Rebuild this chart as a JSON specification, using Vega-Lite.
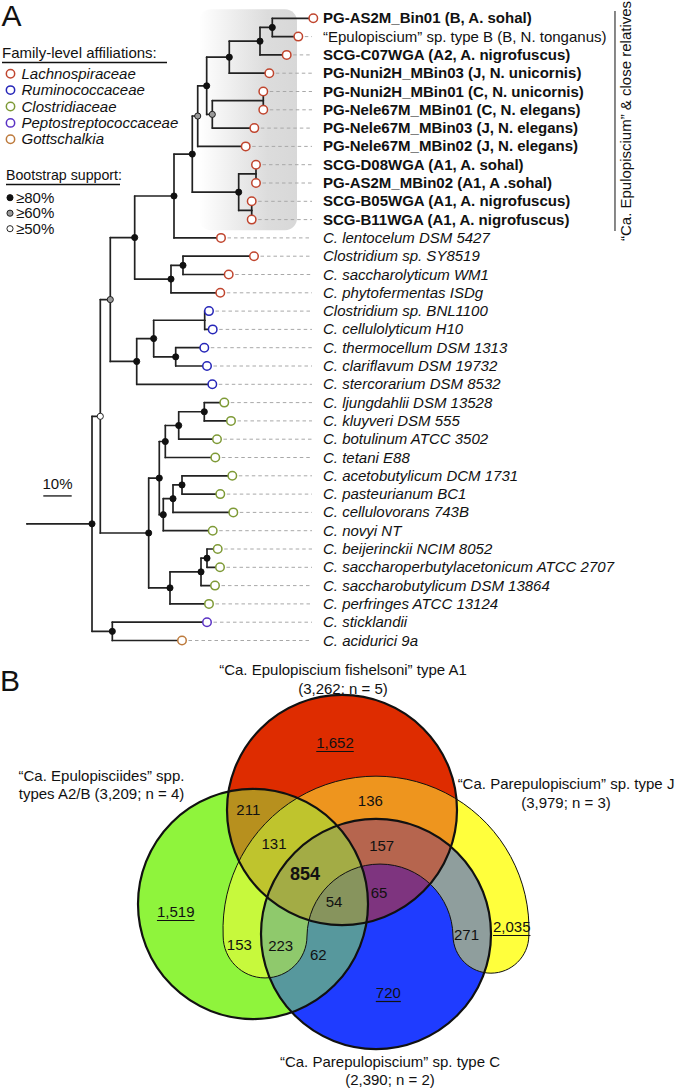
{
  "$schema": "https://vega.github.io/schema/vega-lite/v6.json",
  "width": 677,
  "height": 1089,
  "autosize": {"type": "fit", "contains": "padding"},
  "padding": 0,
  "background": "#ffffff",
  "config": {
    "view": {"stroke": null},
    "axis": {"disable": true},
    "legend": {"disable": true},
    "text": {"font": "Liberation Sans", "fontSize": 15, "color": "#111111"}
  },
  "datasets": {
    "nodes": [
      {"id": "stem", "d": 0, "y": 27.625},
      {"id": "root", "parent": "stem", "d": 22.89, "y": 27.625, "support": "≥80%"},
      {"id": "nW", "parent": "root", "d": 25.81, "y": 21.75, "support": "≥50%"},
      {"id": "nH", "parent": "nW", "d": 29.33, "y": 15.37, "support": "≥60%"},
      {"id": "nE", "parent": "nH", "d": 37.92, "y": 11.98, "support": "≥80%"},
      {"id": "nD", "parent": "nE", "d": 51.76, "y": 9.71, "support": "≥80%"},
      {"id": "nC", "parent": "nD", "d": 58.2, "y": 7.42, "support": "≥80%"},
      {"id": "nB", "parent": "nC", "d": 60.11, "y": 5.34, "support": "≥60%"},
      {"id": "nA", "parent": "nB", "d": 63.27, "y": 3.69, "support": "≥80%"},
      {"id": "n0123", "parent": "nA", "d": 71.23, "y": 2.125, "support": "≥80%"},
      {"id": "n012", "parent": "n0123", "d": 82.04, "y": 1.25, "support": "≥80%"},
      {"id": "n01", "parent": "n012", "d": 86.37, "y": 0.5, "support": "≥80%"},
      {"id": "t0", "parent": "n01", "d": 100.81, "y": 0, "family": "Lachnospiraceae", "kind": "genome", "label": "PG-AS2M_Bin01 (B, A. sohal)"},
      {"id": "t1", "parent": "n01", "d": 95.53, "y": 1, "family": "Lachnospiraceae", "kind": "type", "label": "“Epulopiscium” sp. type B (B, N. tonganus)"},
      {"id": "t2", "parent": "n012", "d": 91.44, "y": 2, "family": "Lachnospiraceae", "kind": "genome", "label": "SCG-C07WGA (A2, A. nigrofuscus)"},
      {"id": "t3", "parent": "n0123", "d": 85.32, "y": 3, "family": "Lachnospiraceae", "kind": "genome", "label": "PG-Nuni2H_MBin03 (J, N. unicornis)"},
      {"id": "n456", "parent": "nA", "d": 65.25, "y": 5.25, "support": "≥60%"},
      {"id": "n45", "parent": "n456", "d": 83.2, "y": 4.5},
      {"id": "t4", "parent": "n45", "d": 83.2, "y": 4, "family": "Lachnospiraceae", "kind": "genome", "label": "PG-Nuni2H_MBin01 (C, N. unicornis)"},
      {"id": "t5", "parent": "n45", "d": 83.2, "y": 5, "family": "Lachnospiraceae", "kind": "genome", "label": "PG-Nele67M_MBin01 (C, N. elegans)"},
      {"id": "t6", "parent": "n456", "d": 80.04, "y": 6, "family": "Lachnospiraceae", "kind": "genome", "label": "PG-Nele67M_MBin03 (J, N. elegans)"},
      {"id": "t7", "parent": "nB", "d": 77.01, "y": 7, "family": "Lachnospiraceae", "kind": "genome", "label": "PG-Nele67M_MBin02 (J, N. elegans)"},
      {"id": "nA1", "parent": "nC", "d": 74.54, "y": 9.5, "support": "≥80%"},
      {"id": "n89", "parent": "nA1", "d": 80.63, "y": 8.5},
      {"id": "t8", "parent": "n89", "d": 80.63, "y": 8, "family": "Lachnospiraceae", "kind": "genome", "label": "SCG-D08WGA (A1, A. sohal)"},
      {"id": "t9", "parent": "n89", "d": 80.63, "y": 9, "family": "Lachnospiraceae", "kind": "genome", "label": "PG-AS2M_MBin02 (A1, A .sohal)"},
      {"id": "n1011", "parent": "nA1", "d": 79.12, "y": 10.5},
      {"id": "t10", "parent": "n1011", "d": 79.12, "y": 10, "family": "Lachnospiraceae", "kind": "genome", "label": "SCG-B05WGA (A1, A. nigrofuscus)"},
      {"id": "t11", "parent": "n1011", "d": 79.12, "y": 11, "family": "Lachnospiraceae", "kind": "genome", "label": "SCG-B11WGA (A1, A. nigrofuscus)"},
      {"id": "t12", "parent": "nD", "d": 68.31, "y": 12, "family": "Lachnospiraceae", "kind": "reference", "label": "C. lentocelum DSM 5427"},
      {"id": "n131415", "parent": "nE", "d": 50.7, "y": 14.25, "support": "≥80%"},
      {"id": "n1314", "parent": "n131415", "d": 54.93, "y": 13.5, "support": "≥80%"},
      {"id": "t13", "parent": "n1314", "d": 79.93, "y": 13, "family": "Lachnospiraceae", "kind": "reference", "label": "Clostridium sp. SY8519"},
      {"id": "t14", "parent": "n1314", "d": 71.02, "y": 14, "family": "Lachnospiraceae", "kind": "reference", "label": "C. saccharolyticum WM1"},
      {"id": "t15", "parent": "n131415", "d": 68.06, "y": 15, "family": "Lachnospiraceae", "kind": "reference", "label": "C. phytofermentas ISDg"},
      {"id": "nG", "parent": "nH", "d": 38.63, "y": 18.75, "support": "≥80%"},
      {"id": "nF", "parent": "nG", "d": 44.61, "y": 17.5, "support": "≥80%"},
      {"id": "n1617", "parent": "nF", "d": 62.57, "y": 16.5},
      {"id": "t16", "parent": "n1617", "d": 64.08, "y": 16, "family": "Ruminococcaceae", "kind": "reference", "label": "Clostridium sp. BNL1100"},
      {"id": "t17", "parent": "n1617", "d": 65.39, "y": 17, "family": "Ruminococcaceae", "kind": "reference", "label": "C. cellulolyticum H10"},
      {"id": "n1819", "parent": "nF", "d": 52.36, "y": 18.5, "support": "≥80%"},
      {"id": "t18", "parent": "n1819", "d": 62.43, "y": 18, "family": "Ruminococcaceae", "kind": "reference", "label": "C. thermocellum DSM 1313"},
      {"id": "t19", "parent": "n1819", "d": 63.38, "y": 19, "family": "Ruminococcaceae", "kind": "reference", "label": "C. clariflavum DSM 19732"},
      {"id": "t20", "parent": "nG", "d": 65.25, "y": 20, "family": "Ruminococcaceae", "kind": "reference", "label": "C. stercorarium DSM 8532"},
      {"id": "nClos", "parent": "nW", "d": 42.85, "y": 28.125, "support": "≥80%"},
      {"id": "n21_28", "parent": "nClos", "d": 46.58, "y": 25.125, "support": "≥80%"},
      {"id": "n21_24", "parent": "n21_28", "d": 48.7, "y": 23.125, "support": "≥80%"},
      {"id": "n21_23", "parent": "n21_24", "d": 53.42, "y": 22.25, "support": "≥80%"},
      {"id": "n2122", "parent": "n21_23", "d": 62.43, "y": 21.5, "support": "≥80%"},
      {"id": "t21", "parent": "n2122", "d": 69.47, "y": 21, "family": "Clostridiaceae", "kind": "reference", "label": "C. ljungdahlii DSM 13528"},
      {"id": "t22", "parent": "n2122", "d": 71.83, "y": 22, "family": "Clostridiaceae", "kind": "reference", "label": "C. kluyveri DSM 555"},
      {"id": "t23", "parent": "n21_23", "d": 66.9, "y": 23, "family": "Clostridiaceae", "kind": "reference", "label": "C. botulinum ATCC 3502"},
      {"id": "t24", "parent": "n21_24", "d": 66.3, "y": 24, "family": "Clostridiaceae", "kind": "reference", "label": "C. tetani E88"},
      {"id": "n25_28", "parent": "n21_28", "d": 47.99, "y": 27.125, "support": "≥80%"},
      {"id": "n25_27", "parent": "n25_28", "d": 51.41, "y": 26.25, "support": "≥80%"},
      {"id": "n2526", "parent": "n25_27", "d": 54.58, "y": 25.5, "support": "≥80%"},
      {"id": "t25", "parent": "n2526", "d": 72.29, "y": 25, "family": "Clostridiaceae", "kind": "reference", "label": "C. acetobutylicum DCM 1731"},
      {"id": "t26", "parent": "n2526", "d": 68.06, "y": 26, "family": "Clostridiaceae", "kind": "reference", "label": "C. pasteurianum BC1"},
      {"id": "t27", "parent": "n25_27", "d": 72.64, "y": 27, "family": "Clostridiaceae", "kind": "reference", "label": "C. cellulovorans 743B"},
      {"id": "t28", "parent": "n25_28", "d": 65.39, "y": 28, "family": "Clostridiaceae", "kind": "reference", "label": "C. novyi NT"},
      {"id": "n29_32", "parent": "nClos", "d": 50.35, "y": 31.125, "support": "≥80%"},
      {"id": "n29_31", "parent": "n29_32", "d": 61.27, "y": 30.25, "support": "≥80%"},
      {"id": "n2930", "parent": "n29_31", "d": 63.38, "y": 29.5, "support": "≥80%"},
      {"id": "t29", "parent": "n2930", "d": 67.15, "y": 29, "family": "Clostridiaceae", "kind": "reference", "label": "C. beijerinckii NCIM 8052"},
      {"id": "t30", "parent": "n2930", "d": 67.96, "y": 30, "family": "Clostridiaceae", "kind": "reference", "label": "C. saccharoperbutylacetonicum ATCC 2707"},
      {"id": "t31", "parent": "n29_31", "d": 66.2, "y": 31, "family": "Clostridiaceae", "kind": "reference", "label": "C. saccharobutylicum DSM 13864"},
      {"id": "t32", "parent": "n29_32", "d": 64.08, "y": 32, "family": "Clostridiaceae", "kind": "reference", "label": "C. perfringes ATCC 13124"},
      {"id": "n3334", "parent": "root", "d": 30.04, "y": 33.5, "support": "≥80%"},
      {"id": "t33", "parent": "n3334", "d": 63.38, "y": 33, "family": "Peptostreptococcaceae", "kind": "reference", "label": "C. sticklandii"},
      {"id": "t34", "parent": "n3334", "d": 54.58, "y": 34, "family": "Gottschalkia", "kind": "reference", "label": "C. acidurici 9a"}
    ],
    "families": [
      {"family": "Lachnospiraceae", "order": 1},
      {"family": "Ruminococcaceae", "order": 2},
      {"family": "Clostridiaceae", "order": 3},
      {"family": "Peptostreptococcaceae", "order": 4},
      {"family": "Gottschalkia", "order": 5}
    ],
    "support": [
      {"support": "≥80%", "order": 1},
      {"support": "≥60%", "order": 2},
      {"support": "≥50%", "order": 3}
    ],
    "sets": [
      {"set": "A2/B", "genes": 3209, "n": 4, "cx": 253, "cy": 903, "lx": 101.5, "ly": 775, "label": ["“Ca. Epulopisciides” spp.", "types A2/B (3,209; n = 4)"]},
      {"set": "A1", "genes": 3262, "n": 5, "cx": 342, "cy": 809, "lx": 343, "ly": 669.3, "label": ["“Ca. Epulopiscium fishelsoni” type A1", "(3,262; n = 5)"]},
      {"set": "C", "genes": 2390, "n": 2, "cx": 376, "cy": 933, "lx": 390, "ly": 1060.7, "label": ["“Ca. Parepulopiscium” sp. type C", "(2,390; n = 2)"]},
      {"set": "J", "genes": 3979, "n": 3, "cx": 376, "cy": 928, "lx": 566, "ly": 783.3, "label": ["“Ca. Parepulopiscium” sp. type J", "(3,979; n = 3)"]}
    ],
    "regions": [
      {"sets": "A1", "genes": 1652, "kind": "unique", "x": 335, "y": 742},
      {"sets": "A2/B", "genes": 1519, "kind": "unique", "x": 175.7, "y": 911},
      {"sets": "J", "genes": 2035, "kind": "unique", "x": 511.7, "y": 926},
      {"sets": "C", "genes": 720, "kind": "unique", "x": 388.3, "y": 992},
      {"sets": "A1+A2/B", "genes": 211, "kind": "shared", "x": 248.3, "y": 809.3},
      {"sets": "A1+J", "genes": 136, "kind": "shared", "x": 370.3, "y": 800},
      {"sets": "A1+A2/B+J", "genes": 131, "kind": "shared", "x": 274, "y": 843.3},
      {"sets": "A2/B+J", "genes": 153, "kind": "shared", "x": 239.3, "y": 944},
      {"sets": "A2/B+J+C", "genes": 223, "kind": "shared", "x": 280.7, "y": 945},
      {"sets": "A2/B+C", "genes": 62, "kind": "shared", "x": 318.3, "y": 954.3},
      {"sets": "A1+A2/B+J+C", "genes": 854, "kind": "core", "x": 305, "y": 874.3},
      {"sets": "A1+A2/B+C", "genes": 54, "kind": "shared", "x": 334, "y": 901},
      {"sets": "A1+J+C", "genes": 157, "kind": "shared", "x": 381.7, "y": 845},
      {"sets": "A1+C", "genes": 65, "kind": "shared", "x": 379, "y": 891.7},
      {"sets": "J+C", "genes": 271, "kind": "shared", "x": 466.5, "y": 933.5}
    ]
  },
  "resolve": {"scale": {"x": "independent", "y": "independent", "color": "independent", "fill": "independent", "stroke": "independent", "size": "independent", "opacity": "independent"}},
  "layer": [
    {
      "data": {"name": "nodes"},
      "layer": [
        {
          "data": {"values": [{"clade": "“Ca. Epulopiscium” & close relatives", "first": 0, "last": 11}]},
          "mark": {"type": "rect", "cornerRadius": 12, "yOffset": -9, "y2Offset": 10.7,
            "fill": {"gradient": "linear", "x1": 0, "y1": 0, "x2": 1, "y2": 0, "stops": [{"offset": 0, "color": "#ffffff"}, {"offset": 0.7, "color": "#dcdcdc"}, {"offset": 1, "color": "#d8d8d8"}]}},
          "encoding": {
            "x": {"datum": 60.56, "type": "quantitative", "scale": {"domain": [0, 100], "range": [27, 311], "nice": false, "zero": false}, "axis": null},
            "x2": {"datum": 95.07},
            "y": {"field": "first", "type": "quantitative", "scale": {"domain": [0, 34], "range": [17.3, 639.5], "nice": false, "zero": false}, "axis": null},
            "y2": {"field": "last"}
          }
        },
        {
          "data": {"values": [{"clade": "“Ca. Epulopiscium” & close relatives", "first": 0, "last": 11}]},
          "mark": {"type": "rule", "color": "#111111", "strokeWidth": 1, "yOffset": -7.3, "y2Offset": 11.4},
          "encoding": {
            "x": {"datum": 207.04, "type": "quantitative", "scale": {"domain": [0, 100], "range": [27, 311], "nice": false, "zero": false}, "axis": null},
            "y": {"field": "first", "type": "quantitative", "scale": {"domain": [0, 34], "range": [17.3, 639.5], "nice": false, "zero": false}, "axis": null},
            "y2": {"field": "last"}
          }
        },
        {
          "data": {"values": [{"clade": "“Ca. Epulopiscium” & close relatives", "first": 0, "last": 11}]},
          "mark": {"type": "text", "angle": 270, "align": "center", "baseline": "middle", "fontSize": 15},
          "encoding": {
            "x": {"datum": 210.92, "type": "quantitative", "scale": {"domain": [0, 100], "range": [27, 311], "nice": false, "zero": false}, "axis": null},
            "y": {"datum": 5.61, "type": "quantitative", "scale": {"domain": [0, 34], "range": [17.3, 639.5], "nice": false, "zero": false}, "axis": null},
            "text": {"field": "clade"}
          }
        },
        {
          "transform": [{"filter": "datum.family != null"}],
          "mark": {"type": "rule", "color": "#a8a8a8", "strokeWidth": 1, "strokeDash": [3.5, 3]},
          "encoding": {
            "x": {"field": "d", "type": "quantitative", "scale": {"domain": [0, 100], "range": [27, 311], "nice": false, "zero": false}, "axis": null},
            "x2": {"datum": 100.35},
            "y": {"field": "y", "type": "quantitative", "scale": {"domain": [0, 34], "range": [17.3, 639.5], "nice": false, "zero": false}, "axis": null}
          }
        },
        {
          "transform": [
            {"filter": "datum.parent != null"},
            {"lookup": "parent", "from": {"data": {"name": "nodes"}, "key": "id", "fields": ["d", "y"]}, "as": ["pd", "py"]}
          ],
          "mark": {"type": "rule", "color": "#222222", "strokeWidth": 1.7, "strokeCap": "round"},
          "encoding": {
            "x": {"field": "pd", "type": "quantitative", "scale": {"domain": [0, 100], "range": [27, 311], "nice": false, "zero": false}, "axis": null},
            "y": {"field": "py", "type": "quantitative", "scale": {"domain": [0, 34], "range": [17.3, 639.5], "nice": false, "zero": false}, "axis": null},
            "y2": {"field": "y"}
          }
        },
        {
          "transform": [
            {"filter": "datum.parent != null"},
            {"lookup": "parent", "from": {"data": {"name": "nodes"}, "key": "id", "fields": ["d", "y"]}, "as": ["pd", "py"]}
          ],
          "mark": {"type": "rule", "color": "#222222", "strokeWidth": 1.7, "strokeCap": "round"},
          "encoding": {
            "x": {"field": "pd", "type": "quantitative", "scale": {"domain": [0, 100], "range": [27, 311], "nice": false, "zero": false}, "axis": null},
            "x2": {"field": "d"},
            "y": {"field": "y", "type": "quantitative", "scale": {"domain": [0, 34], "range": [17.3, 639.5], "nice": false, "zero": false}, "axis": null}
          }
        },
        {
          "transform": [{"filter": "datum.support != null"}],
          "mark": {"type": "point", "shape": "circle", "filled": true, "size": 38, "stroke": "#111111", "strokeWidth": 0.9, "opacity": 1},
          "encoding": {
            "x": {"field": "d", "type": "quantitative", "scale": {"domain": [0, 100], "range": [27, 311], "nice": false, "zero": false}, "axis": null},
            "y": {"field": "y", "type": "quantitative", "scale": {"domain": [0, 34], "range": [17.3, 639.5], "nice": false, "zero": false}, "axis": null},
            "fill": {"field": "support", "type": "nominal", "scale": {"domain": ["≥80%", "≥60%", "≥50%"], "range": ["#111111", "#9a9a9a", "#ffffff"]}, "legend": null}
          }
        },
        {
          "transform": [{"filter": "datum.family != null"}],
          "mark": {"type": "point", "shape": "circle", "size": 72, "fill": "#ffffff", "strokeWidth": 1.5, "opacity": 1},
          "encoding": {
            "x": {"field": "d", "type": "quantitative", "scale": {"domain": [0, 100], "range": [27, 311], "nice": false, "zero": false}, "axis": null},
            "y": {"field": "y", "type": "quantitative", "scale": {"domain": [0, 34], "range": [17.3, 639.5], "nice": false, "zero": false}, "axis": null},
            "stroke": {"field": "family", "type": "nominal", "scale": {"domain": ["Lachnospiraceae", "Ruminococcaceae", "Clostridiaceae", "Peptostreptococcaceae", "Gottschalkia"], "range": ["#c0452e", "#2626b8", "#7e9a36", "#5a32c4", "#bd7a3c"]}, "legend": null}
          }
        },
        {
          "transform": [{"filter": "datum.kind == 'genome'"}],
          "mark": {"type": "text", "align": "left", "baseline": "middle", "fontSize": 15, "fontWeight": "bold"},
          "encoding": {
            "x": {"datum": 104.23, "type": "quantitative", "scale": {"domain": [0, 100], "range": [27, 311], "nice": false, "zero": false}, "axis": null},
            "y": {"field": "y", "type": "quantitative", "scale": {"domain": [0, 34], "range": [17.3, 639.5], "nice": false, "zero": false}, "axis": null},
            "text": {"field": "label"}
          }
        },
        {
          "transform": [{"filter": "datum.kind == 'type'"}],
          "mark": {"type": "text", "align": "left", "baseline": "middle", "fontSize": 15},
          "encoding": {
            "x": {"datum": 104.23, "type": "quantitative", "scale": {"domain": [0, 100], "range": [27, 311], "nice": false, "zero": false}, "axis": null},
            "y": {"field": "y", "type": "quantitative", "scale": {"domain": [0, 34], "range": [17.3, 639.5], "nice": false, "zero": false}, "axis": null},
            "text": {"field": "label"}
          }
        },
        {
          "transform": [{"filter": "datum.kind == 'reference'"}],
          "mark": {"type": "text", "align": "left", "baseline": "middle", "fontSize": 15, "fontStyle": "italic"},
          "encoding": {
            "x": {"datum": 104.23, "type": "quantitative", "scale": {"domain": [0, 100], "range": [27, 311], "nice": false, "zero": false}, "axis": null},
            "y": {"field": "y", "type": "quantitative", "scale": {"domain": [0, 34], "range": [17.3, 639.5], "nice": false, "zero": false}, "axis": null},
            "text": {"field": "label"}
          }
        },
        {
          "data": {"values": [{"bar": "10%"}]},
          "mark": {"type": "rule", "color": "#111111", "strokeWidth": 1.3},
          "encoding": {
            "x": {"datum": 5.74, "type": "quantitative", "scale": {"domain": [0, 100], "range": [27, 311], "nice": false, "zero": false}, "axis": null},
            "x2": {"datum": 15.74},
            "y": {"datum": 26.1, "type": "quantitative", "scale": {"domain": [0, 34], "range": [17.3, 639.5], "nice": false, "zero": false}, "axis": null}
          }
        },
        {
          "data": {"values": [{"bar": "10%"}]},
          "mark": {"type": "text", "align": "center", "baseline": "middle", "fontSize": 15},
          "encoding": {
            "x": {"datum": 10.74, "type": "quantitative", "scale": {"domain": [0, 100], "range": [27, 311], "nice": false, "zero": false}, "axis": null},
            "y": {"datum": 25.45, "type": "quantitative", "scale": {"domain": [0, 34], "range": [17.3, 639.5], "nice": false, "zero": false}, "axis": null},
            "text": {"field": "bar"}
          }
        }
      ]
    },
    {
      "data": {"name": "families"},
      "layer": [
        {
          "mark": {"type": "point", "shape": "circle", "size": 70, "fill": "#ffffff", "strokeWidth": 1.5, "opacity": 1},
          "encoding": {
            "x": {"datum": 10.5, "type": "quantitative", "scale": {"domain": [0, 677], "range": [0, 677], "nice": false, "zero": false}, "axis": null},
            "y": {"field": "order", "type": "quantitative", "scale": {"domain": [1, 5], "range": [72.7, 138.3], "nice": false, "zero": false}, "axis": null},
            "stroke": {"field": "family", "type": "nominal", "scale": {"domain": ["Lachnospiraceae", "Ruminococcaceae", "Clostridiaceae", "Peptostreptococcaceae", "Gottschalkia"], "range": ["#c0452e", "#2626b8", "#7e9a36", "#5a32c4", "#bd7a3c"]}, "legend": null}
          }
        },
        {
          "mark": {"type": "text", "align": "left", "baseline": "middle", "fontSize": 15, "fontStyle": "italic"},
          "encoding": {
            "x": {"datum": 21.5, "type": "quantitative", "scale": {"domain": [0, 677], "range": [0, 677], "nice": false, "zero": false}, "axis": null},
            "y": {"field": "order", "type": "quantitative", "scale": {"domain": [1, 5], "range": [72.7, 138.3], "nice": false, "zero": false}, "axis": null},
            "text": {"field": "family"}
          }
        }
      ]
    },
    {
      "data": {"name": "support"},
      "layer": [
        {
          "mark": {"type": "point", "shape": "circle", "filled": true, "size": 38, "stroke": "#111111", "strokeWidth": 0.9, "opacity": 1},
          "encoding": {
            "x": {"datum": 10, "type": "quantitative", "scale": {"domain": [0, 677], "range": [0, 677], "nice": false, "zero": false}, "axis": null},
            "y": {"field": "order", "type": "quantitative", "scale": {"domain": [1, 3], "range": [196.7, 227.7], "nice": false, "zero": false}, "axis": null},
            "fill": {"field": "support", "type": "nominal", "scale": {"domain": ["≥80%", "≥60%", "≥50%"], "range": ["#111111", "#9a9a9a", "#ffffff"]}, "legend": null}
          }
        },
        {
          "mark": {"type": "text", "align": "left", "baseline": "middle", "fontSize": 15},
          "encoding": {
            "x": {"datum": 16, "type": "quantitative", "scale": {"domain": [0, 677], "range": [0, 677], "nice": false, "zero": false}, "axis": null},
            "y": {"field": "order", "type": "quantitative", "scale": {"domain": [1, 3], "range": [196.7, 227.7], "nice": false, "zero": false}, "axis": null},
            "text": {"field": "support"}
          }
        }
      ]
    },
    {
      "data": {"values": [{"panelA": "A", "panelB": "B", "families": "Family-level affiliations:", "bootstrap": "Bootstrap support:"}]},
      "layer": [
        {
          "mark": {"type": "text", "align": "left", "baseline": "alphabetic", "fontSize": 30},
          "encoding": {
            "x": {"datum": 1.5, "type": "quantitative", "scale": {"domain": [0, 677], "range": [0, 677], "nice": false, "zero": false}, "axis": null},
            "y": {"datum": 25, "type": "quantitative", "scale": {"domain": [0, 1089], "range": [0, 1089], "nice": false, "zero": false}, "axis": null},
            "text": {"field": "panelA"}
          }
        },
        {
          "mark": {"type": "text", "align": "left", "baseline": "alphabetic", "fontSize": 30},
          "encoding": {
            "x": {"datum": 0, "type": "quantitative", "scale": {"domain": [0, 677], "range": [0, 677], "nice": false, "zero": false}, "axis": null},
            "y": {"datum": 690, "type": "quantitative", "scale": {"domain": [0, 1089], "range": [0, 1089], "nice": false, "zero": false}, "axis": null},
            "text": {"field": "panelB"}
          }
        },
        {
          "mark": {"type": "text", "align": "left", "baseline": "alphabetic", "fontSize": 15},
          "encoding": {
            "x": {"datum": 2, "type": "quantitative", "scale": {"domain": [0, 677], "range": [0, 677], "nice": false, "zero": false}, "axis": null},
            "y": {"datum": 57.4, "type": "quantitative", "scale": {"domain": [0, 1089], "range": [0, 1089], "nice": false, "zero": false}, "axis": null},
            "text": {"field": "families"}
          }
        },
        {
          "mark": {"type": "rule", "color": "#111111", "strokeWidth": 1.5},
          "encoding": {
            "x": {"datum": 2, "type": "quantitative", "scale": {"domain": [0, 677], "range": [0, 677], "nice": false, "zero": false}, "axis": null},
            "x2": {"datum": 167},
            "y": {"datum": 61.5, "type": "quantitative", "scale": {"domain": [0, 1089], "range": [0, 1089], "nice": false, "zero": false}, "axis": null}
          }
        },
        {
          "mark": {"type": "text", "align": "left", "baseline": "alphabetic", "fontSize": 14.2},
          "encoding": {
            "x": {"datum": 6, "type": "quantitative", "scale": {"domain": [0, 677], "range": [0, 677], "nice": false, "zero": false}, "axis": null},
            "y": {"datum": 179, "type": "quantitative", "scale": {"domain": [0, 1089], "range": [0, 1089], "nice": false, "zero": false}, "axis": null},
            "text": {"field": "bootstrap"}
          }
        },
        {
          "mark": {"type": "rule", "color": "#111111", "strokeWidth": 1.5},
          "encoding": {
            "x": {"datum": 6, "type": "quantitative", "scale": {"domain": [0, 677], "range": [0, 677], "nice": false, "zero": false}, "axis": null},
            "x2": {"datum": 120},
            "y": {"datum": 183.5, "type": "quantitative", "scale": {"domain": [0, 1089], "range": [0, 1089], "nice": false, "zero": false}, "axis": null}
          }
        }
      ]
    },
    {
      "data": {"name": "sets"},
      "layer": [
        {
          "transform": [{"filter": "datum.set == 'A2/B'"}],
          "mark": {"type": "point", "shape": "circle", "size": 52900, "filled": true, "opacity": 1, "strokeWidth": 0},
          "encoding": {
            "x": {"field": "cx", "type": "quantitative", "scale": {"domain": [0, 677], "range": [0, 677], "nice": false, "zero": false}, "axis": null},
            "y": {"field": "cy", "type": "quantitative", "scale": {"domain": [0, 1089], "range": [0, 1089], "nice": false, "zero": false}, "axis": null},
            "color": {"field": "set", "type": "nominal", "scale": {"domain": ["A1", "A2/B", "C", "J"], "range": ["#de2c00", "#8ff43c", "#1f3cff", "#ffff3c"]}, "legend": null}
          }
        },
        {
          "transform": [{"filter": "datum.set == 'A1'"}],
          "mark": {"type": "point", "shape": "circle", "size": 52900, "filled": true, "opacity": 1, "strokeWidth": 0},
          "encoding": {
            "x": {"field": "cx", "type": "quantitative", "scale": {"domain": [0, 677], "range": [0, 677], "nice": false, "zero": false}, "axis": null},
            "y": {"field": "cy", "type": "quantitative", "scale": {"domain": [0, 1089], "range": [0, 1089], "nice": false, "zero": false}, "axis": null},
            "color": {"field": "set", "type": "nominal", "scale": {"domain": ["A1", "A2/B", "C", "J"], "range": ["#de2c00", "#8ff43c", "#1f3cff", "#ffff3c"]}, "legend": null}
          }
        },
        {
          "transform": [{"filter": "datum.set == 'J'"}],
          "mark": {"type": "point", "shape": "M-0.999,0.0458A1,1,0,1,1,0.999,0.0458A0.2479,0.2479,0,0,1,0.5033,0.0458A0.4772,0.4772,0,0,0,-0.451,0.0458A0.274,0.274,0,0,1,-0.999,0.0458Z", "size": 93636, "filled": true, "opacity": 1, "strokeWidth": 0},
          "encoding": {
            "x": {"field": "cx", "type": "quantitative", "scale": {"domain": [0, 677], "range": [0, 677], "nice": false, "zero": false}, "axis": null},
            "y": {"field": "cy", "type": "quantitative", "scale": {"domain": [0, 1089], "range": [0, 1089], "nice": false, "zero": false}, "axis": null},
            "color": {"field": "set", "type": "nominal", "scale": {"domain": ["A1", "A2/B", "C", "J"], "range": ["#de2c00", "#8ff43c", "#1f3cff", "#ffff3c"]}, "legend": null}
          }
        },
        {
          "transform": [{"filter": "datum.set == 'C'"}],
          "mark": {"type": "point", "shape": "circle", "size": 52900, "filled": true, "opacity": 1, "strokeWidth": 0},
          "encoding": {
            "x": {"field": "cx", "type": "quantitative", "scale": {"domain": [0, 677], "range": [0, 677], "nice": false, "zero": false}, "axis": null},
            "y": {"field": "cy", "type": "quantitative", "scale": {"domain": [0, 1089], "range": [0, 1089], "nice": false, "zero": false}, "axis": null},
            "color": {"field": "set", "type": "nominal", "scale": {"domain": ["A1", "A2/B", "C", "J"], "range": ["#de2c00", "#8ff43c", "#1f3cff", "#ffff3c"]}, "legend": null}
          }
        },
        {
          "transform": [{"filter": "datum.set == 'C'"}],
          "mark": {"type": "point", "shape": "circle", "size": 52900, "filled": true, "opacity": 0.5, "strokeWidth": 0},
          "encoding": {
            "x": {"field": "cx", "type": "quantitative", "scale": {"domain": [0, 677], "range": [0, 677], "nice": false, "zero": false}, "axis": null},
            "y": {"field": "cy", "type": "quantitative", "scale": {"domain": [0, 1089], "range": [0, 1089], "nice": false, "zero": false}, "axis": null},
            "color": {"field": "set", "type": "nominal", "scale": {"domain": ["A1", "A2/B", "C", "J"], "range": ["#de2c00", "#8ff43c", "#1f3cff", "#ffff3c"]}, "legend": null}
          }
        },
        {
          "transform": [{"filter": "datum.set == 'J'"}],
          "mark": {"type": "point", "shape": "M-0.999,0.0458A1,1,0,1,1,0.999,0.0458A0.2479,0.2479,0,0,1,0.5033,0.0458A0.4772,0.4772,0,0,0,-0.451,0.0458A0.274,0.274,0,0,1,-0.999,0.0458Z", "size": 93636, "filled": true, "opacity": 0.5, "strokeWidth": 0},
          "encoding": {
            "x": {"field": "cx", "type": "quantitative", "scale": {"domain": [0, 677], "range": [0, 677], "nice": false, "zero": false}, "axis": null},
            "y": {"field": "cy", "type": "quantitative", "scale": {"domain": [0, 1089], "range": [0, 1089], "nice": false, "zero": false}, "axis": null},
            "color": {"field": "set", "type": "nominal", "scale": {"domain": ["A1", "A2/B", "C", "J"], "range": ["#de2c00", "#8ff43c", "#1f3cff", "#ffff3c"]}, "legend": null}
          }
        },
        {
          "transform": [{"filter": "datum.set == 'A1'"}],
          "mark": {"type": "point", "shape": "circle", "size": 52900, "filled": true, "opacity": 0.5, "strokeWidth": 0},
          "encoding": {
            "x": {"field": "cx", "type": "quantitative", "scale": {"domain": [0, 677], "range": [0, 677], "nice": false, "zero": false}, "axis": null},
            "y": {"field": "cy", "type": "quantitative", "scale": {"domain": [0, 1089], "range": [0, 1089], "nice": false, "zero": false}, "axis": null},
            "color": {"field": "set", "type": "nominal", "scale": {"domain": ["A1", "A2/B", "C", "J"], "range": ["#de2c00", "#8ff43c", "#1f3cff", "#ffff3c"]}, "legend": null}
          }
        },
        {
          "transform": [{"filter": "datum.set == 'A2/B'"}],
          "mark": {"type": "point", "shape": "circle", "size": 52900, "filled": true, "opacity": 0.5, "strokeWidth": 0},
          "encoding": {
            "x": {"field": "cx", "type": "quantitative", "scale": {"domain": [0, 677], "range": [0, 677], "nice": false, "zero": false}, "axis": null},
            "y": {"field": "cy", "type": "quantitative", "scale": {"domain": [0, 1089], "range": [0, 1089], "nice": false, "zero": false}, "axis": null},
            "color": {"field": "set", "type": "nominal", "scale": {"domain": ["A1", "A2/B", "C", "J"], "range": ["#de2c00", "#8ff43c", "#1f3cff", "#ffff3c"]}, "legend": null}
          }
        },
        {
          "transform": [{"filter": "datum.set != 'J'"}],
          "mark": {"type": "point", "shape": "circle", "size": 52900, "filled": false, "stroke": "#111111", "strokeWidth": 2.2, "opacity": 1},
          "encoding": {
            "x": {"field": "cx", "type": "quantitative", "scale": {"domain": [0, 677], "range": [0, 677], "nice": false, "zero": false}, "axis": null},
            "y": {"field": "cy", "type": "quantitative", "scale": {"domain": [0, 1089], "range": [0, 1089], "nice": false, "zero": false}, "axis": null}
          }
        },
        {
          "transform": [{"filter": "datum.set == 'J'"}],
          "mark": {"type": "point", "shape": "M-0.999,0.0458A1,1,0,1,1,0.999,0.0458A0.2479,0.2479,0,0,1,0.5033,0.0458A0.4772,0.4772,0,0,0,-0.451,0.0458A0.274,0.274,0,0,1,-0.999,0.0458Z", "size": 93636, "filled": false, "stroke": "#111111", "strokeWidth": 1, "opacity": 1},
          "encoding": {
            "x": {"field": "cx", "type": "quantitative", "scale": {"domain": [0, 677], "range": [0, 677], "nice": false, "zero": false}, "axis": null},
            "y": {"field": "cy", "type": "quantitative", "scale": {"domain": [0, 1089], "range": [0, 1089], "nice": false, "zero": false}, "axis": null}
          }
        },
        {
          "mark": {"type": "text", "align": "center", "baseline": "middle", "fontSize": 15, "lineHeight": 18.4},
          "encoding": {
            "x": {"field": "lx", "type": "quantitative", "scale": {"domain": [0, 677], "range": [0, 677], "nice": false, "zero": false}, "axis": null},
            "y": {"field": "ly", "type": "quantitative", "scale": {"domain": [0, 1089], "range": [0, 1089], "nice": false, "zero": false}, "axis": null},
            "text": {"field": "label"}
          }
        },
        {
          "data": {"name": "regions"},
          "transform": [{"filter": "datum.kind != 'core'"}],
          "mark": {"type": "text", "align": "center", "baseline": "middle", "fontSize": 15},
          "encoding": {
            "x": {"field": "x", "type": "quantitative", "scale": {"domain": [0, 677], "range": [0, 677], "nice": false, "zero": false}, "axis": null},
            "y": {"field": "y", "type": "quantitative", "scale": {"domain": [0, 1089], "range": [0, 1089], "nice": false, "zero": false}, "axis": null},
            "text": {"field": "genes", "type": "quantitative", "format": ","}
          }
        },
        {
          "data": {"name": "regions"},
          "transform": [{"filter": "datum.kind == 'core'"}],
          "mark": {"type": "text", "align": "center", "baseline": "middle", "fontSize": 18, "fontWeight": "bold"},
          "encoding": {
            "x": {"field": "x", "type": "quantitative", "scale": {"domain": [0, 677], "range": [0, 677], "nice": false, "zero": false}, "axis": null},
            "y": {"field": "y", "type": "quantitative", "scale": {"domain": [0, 1089], "range": [0, 1089], "nice": false, "zero": false}, "axis": null},
            "text": {"field": "genes", "type": "quantitative", "format": ","}
          }
        },
        {
          "data": {"name": "regions"},
          "transform": [{"filter": "datum.kind == 'unique'"}],
          "mark": {"type": "tick", "orient": "horizontal", "thickness": 1.2, "color": "#111111", "opacity": 1, "yOffset": 8.5},
          "encoding": {
            "x": {"field": "x", "type": "quantitative", "scale": {"domain": [0, 677], "range": [0, 677], "nice": false, "zero": false}, "axis": null},
            "y": {"field": "y", "type": "quantitative", "scale": {"domain": [0, 1089], "range": [0, 1089], "nice": false, "zero": false}, "axis": null},
            "size": {"condition": {"test": "datum.genes < 1000", "value": 25}, "value": 37.5}
          }
        }
      ]
    }
  ]
}
